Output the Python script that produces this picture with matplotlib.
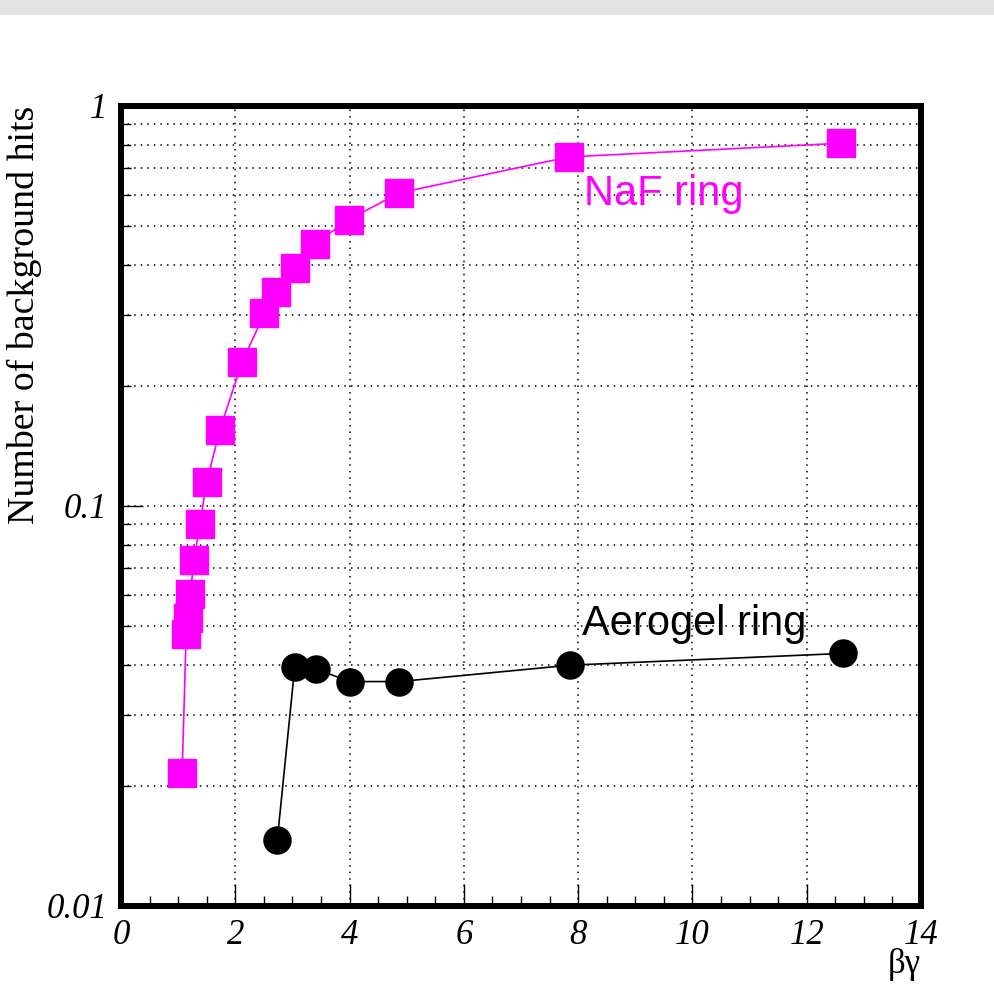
import matplotlib
matplotlib.use("Agg")
import matplotlib.pyplot as plt
from matplotlib.ticker import FixedLocator, MultipleLocator, LogLocator, NullFormatter, FixedFormatter
from matplotlib.patches import Rectangle

# ---- data ----
naf_x = [1.07, 1.14, 1.17, 1.21, 1.28, 1.38, 1.50, 1.73, 2.12, 2.51, 2.72, 3.04, 3.39, 3.99, 4.86, 7.84, 12.60]
naf_y = [0.0215, 0.0479, 0.0525, 0.0603, 0.0733, 0.0902, 0.115, 0.155, 0.229, 0.303, 0.343, 0.394, 0.453, 0.520, 0.606, 0.746, 0.807]

aero_x = [2.735, 3.04, 3.42, 4.00, 4.87, 7.86, 12.63]
aero_y = [0.01462, 0.0395, 0.0391, 0.0364, 0.0364, 0.0400, 0.0428]

x_ticks = [0, 2, 4, 6, 8, 10, 12, 14]
x_tick_labels = ["0", "2", "4", "6", "8", "10", "12", "14"]
y_ticks = [0.01, 0.1, 1]
y_tick_labels = ["0.01", "0.1", "1"]

W, H = 995, 985
fig = plt.figure(figsize=(W / 100, H / 100), dpi=100)
fig.patch.set_facecolor("white")
fig.patches.append(Rectangle((0, 1 - 15 / H), 1, 15 / H, transform=fig.transFigure,
                             facecolor="#e3e3e3", edgecolor="none", zorder=0))

left, right, top, bottom = 121, 921, 106, 906
ax = fig.add_axes([left / W, 1 - bottom / H, (right - left) / W, (bottom - top) / H])

serif = "Liberation Serif"
sans = "Liberation Sans"

ax.set_xlim(0, 14)
ax.set_yscale("log")
ax.set_ylim(0.01, 1)

# grid
grid_style = dict(color="black", linewidth=1.1, linestyle=(0, (1, 3.3)))
ax.xaxis.set_major_locator(FixedLocator(x_ticks))
ax.xaxis.set_minor_locator(MultipleLocator(0.5))
ax.xaxis.set_major_formatter(FixedFormatter(x_tick_labels))
ax.yaxis.set_major_locator(FixedLocator(y_ticks))
ax.yaxis.set_major_formatter(FixedFormatter(y_tick_labels))
ax.yaxis.set_minor_locator(LogLocator(base=10, subs=range(2, 10)))
ax.yaxis.set_minor_formatter(NullFormatter())
ax.grid(True, which="major", axis="x", **grid_style)
ax.grid(True, which="both", axis="y", **grid_style)
ax.set_axisbelow(True)

ax.tick_params(which="both", direction="in", top=False, right=False, width=1.0, color="black")
ax.tick_params(which="major", length=16)
ax.tick_params(which="minor", length=7.5)
ax.tick_params(axis="x", which="major", pad=9)
ax.tick_params(axis="y", which="major", pad=10)
for lab in ax.get_xticklabels() + ax.get_yticklabels():
    lab.set_fontfamily(serif)
    lab.set_fontstyle("italic")
    lab.set_fontsize(25)

for sp in ax.spines.values():
    sp.set_linewidth(4.3)
    sp.set_color("black")

# data
ax.plot(naf_x, naf_y, color="#ff00ff", linewidth=1.2, marker="s", markersize=20,
        markerfacecolor="#ff00ff", markeredgecolor="#ff00ff", zorder=3)
ax.plot(aero_x, aero_y, color="black", linewidth=1.2, marker="o", markersize=19.5,
        markerfacecolor="black", markeredgecolor="black", zorder=3)

ax.text(8.10, 0.5656, "NaF ring", color="#ff00ff", fontsize=30, family=sans, va="baseline", ha="left")
ax.text(8.07, 0.0476, "Aerogel ring", color="black", fontsize=30, family=sans, va="baseline", ha="left")

ax.set_ylabel("Number of background hits", family=serif, fontsize=27.3, loc="top")
ax.yaxis.set_label_coords(-0.099, 1.0)
ax.set_xlabel("βγ", family=serif, fontsize=25, loc="right")
ax.xaxis.set_label_coords(1.0, -0.052)

fig.savefig("out.png", dpi=100)
